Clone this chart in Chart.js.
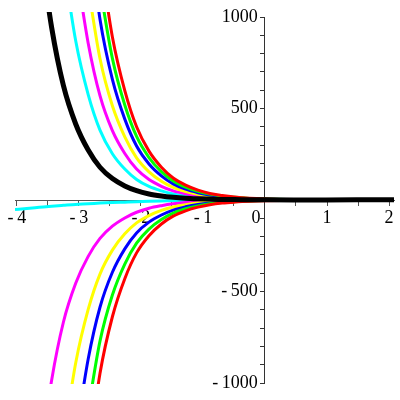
<!DOCTYPE html>
<html>
<head>
<meta charset="utf-8">
<script src="https://cdn.jsdelivr.net/npm/chart.js@4.4.1/dist/chart.umd.min.js"></script>
<style>
  html, body { margin: 0; padding: 0; background: #fff; }
  #wrap { width: 400px; height: 400px; }
</style>
</head>
<body>
<div id="wrap"><canvas id="plot"></canvas></div>
<script>
// sample positions along x
const xValues = [-4.03, -3.84, -3.64, -3.44, -3.25, -3.05, -2.85, -2.66, -2.46, -2.26, -2.07, -1.87, -1.67,
                 -1.48, -1.28, -1.08, -0.89, -0.69, -0.49, -0.25, 0, 0.49, 0.98, 1.48, 2.08];

// upper branches
const blackUp   = [null, null, 1421, 944, 626, 414, 273, 179, 117, 77, 51, 33, 22, 15, 10, 7, 5, 3, 2.4, 1.5, 0.9, 0.3, 0.5, 1, 2];
const cyanUp    = [null, null, null, null, 1302, 867, 576, 382, 253, 169, 112, 74, 50, 33, 22, 15, 10, 7, 5, 3, 1.8, 0.6, 0.5, 1, 2];
const magentaUp = [null, null, null, null, null, 1286, 857, 570, 379, 254, 169, 112, 75, 50, 34, 23, 15, 10.5, 7.3, 4.4, 2.7, 1, 0.6, 1, 2];
const yellowUp  = [null, null, null, null, null, null, 1161, 773, 515, 345, 230, 154, 103, 69, 46, 31, 21, 14, 9.8, 5.9, 3.6, 1.3, 0.7, 1, 2];
const blueUp    = [null, null, null, null, null, null, 1481, 988, 659, 442, 295, 197, 132, 88, 59, 40, 27, 18, 12.4, 7.5, 4.6, 1.7, 0.8, 1, 2];
const greenUp   = [null, null, null, null, null, null, null, 1160, 774, 519, 347, 232, 155, 104, 70, 47, 32, 21, 14.5, 8.8, 5.3, 2, 0.9, 1, 2];
const redUp     = [null, null, null, null, null, null, null, 1335, 891, 598, 400, 267, 179, 120, 81, 54, 36, 25, 16.7, 10, 6.1, 2.3, 1, 1, 2];

// lower branches
const cyanLow    = [-52, -46, -40, -34, -29, -24, -21, -17, -14, -12, -10, -7, -5, -4, -2, -1, -0.5, 0, 0, 0, 0, 0.1, 0.5, 1, 2];
const magentaLow = [null, null, -1458, -986, -668, -454, -308, -210, -143, -98, -67, -45, -31, -21, -14, -9, -6, -4, -2.5, -1.4, -0.9, -0.2, 0.3, 1, 2];
const yellowLow  = [null, null, null, null, -1315, -888, -598, -405, -274, -185, -125, -85, -57, -38, -26, -17, -11, -7, -4.9, -2.9, -1.7, -0.5, 0.2, 1, 2];
const blueLow    = [null, null, null, null, null, -1292, -869, -586, -395, -267, -180, -121, -82, -55, -37, -24, -16, -11, -7, -4.2, -2.6, -0.8, 0.1, 1, 2];
const greenLow   = [null, null, null, null, null, null, -1146, -771, -519, -350, -236, -159, -107, -72, -48, -32, -21, -14, -9.4, -5.6, -3.4, -1.1, 0, 1, 2];
const redLow     = [null, null, null, null, null, null, -1410, -948, -638, -430, -289, -195, -131, -88, -59, -39, -26, -17, -11.5, -6.9, -4.2, -1.4, 0, 1, 2];

// axis ticks
const xTicks = [-4, -3.5, -3, -2.5, -2, -1.5, -1, -0.5, 0, 0.5, 1, 1.5, 2];
const xLabels = [-4, -3, -2, -1, 0, 1, 2];
const yTicks = [-1000, -900, -800, -700, -600, -500, -400, -300, -200, -100, 0,
                100, 200, 300, 400, 500, 600, 700, 800, 900, 1000];
const yLabels = [-1000, -500, 500, 1000];

function series(ys, color, width) {
    return {
        data: xValues.map((x, i) => ({ x: x, y: ys[i] })),
        showLine: true,
        borderColor: color,
        borderWidth: width,
        pointRadius: 0,
        fill: false,
        cubicInterpolationMode: 'monotone',
        clip: { left: 0, right: 0, top: 5, bottom: 1 }
    };
}

function tickText(v) {
    return v < 0 ? '-\u2009' + Math.abs(v) : String(v);
}

const serif = "'Liberation Serif', 'Times New Roman', serif";

// Chart.js paints the first dataset last, so the thick black curve goes first
new Chart(document.getElementById('plot'), {
    type: 'scatter',
    data: {
        datasets: [
            series(blackUp, '#000000', 5),
            series(redUp, '#ff0000', 3),
            series(greenUp, '#00ff00', 3),
            series(blueUp, '#0000ff', 3),
            series(yellowUp, '#ffff00', 3),
            series(magentaUp, '#ff00ff', 3),
            series(cyanUp, '#00ffff', 3),
            series(redLow, '#ff0000', 3),
            series(greenLow, '#00ff00', 3),
            series(blueLow, '#0000ff', 3),
            series(yellowLow, '#ffff00', 3),
            series(magentaLow, '#ff00ff', 3),
            series(cyanLow, '#00ffff', 3)
        ]
    },
    options: {
        responsive: true,
        maintainAspectRatio: false,
        animation: false,
        layout: {
            padding: { left: 15, right: 6, top: 17, bottom: 17 }
        },
        plugins: {
            legend: { display: false },
            tooltip: { enabled: false }
        },
        scales: {
            x: {
                type: 'linear',
                min: -4.03,
                max: 2.08,
                position: { y: 0 },
                afterBuildTicks: scale => { scale.ticks = xTicks.map(v => ({ value: v })); },
                grid: { drawOnChartArea: false, tickLength: 5, tickColor: '#555' },
                border: { color: '#555', width: 1 },
                ticks: {
                    autoSkip: false,
                    maxRotation: 0,
                    padding: 2,
                    color: '#000',
                    font: { family: serif, size: 18 },
                    callback: v => {
                        if (!xLabels.includes(v)) return '';
                        return v === 0 ? '0\u2003' : tickText(v);
                    }
                }
            },
            y: {
                type: 'linear',
                min: -1000,
                max: 1000,
                position: { x: 0 },
                afterBuildTicks: scale => { scale.ticks = yTicks.map(v => ({ value: v })); },
                grid: { drawOnChartArea: false, drawTicks: false },
                border: { color: '#333', width: 1 },
                ticks: {
                    autoSkip: false,
                    padding: 0,
                    color: '#000',
                    font: { family: serif, size: 18 },
                    callback: v => yLabels.includes(v) ? tickText(v) + '\u2009\u2009' : ''
                }
            },
            // tick marks on the left side of the vertical axis
            yMarks: {
                type: 'linear',
                axis: 'y',
                min: -1000,
                max: 1000,
                position: { x: 0 },
                afterBuildTicks: scale => { scale.ticks = yTicks.map(v => ({ value: v })); },
                grid: { drawOnChartArea: false, tickLength: 5, tickColor: '#333' },
                border: { display: false },
                ticks: { autoSkip: false, callback: () => '' }
            }
        }
    }
});
</script>
</body>
</html>
